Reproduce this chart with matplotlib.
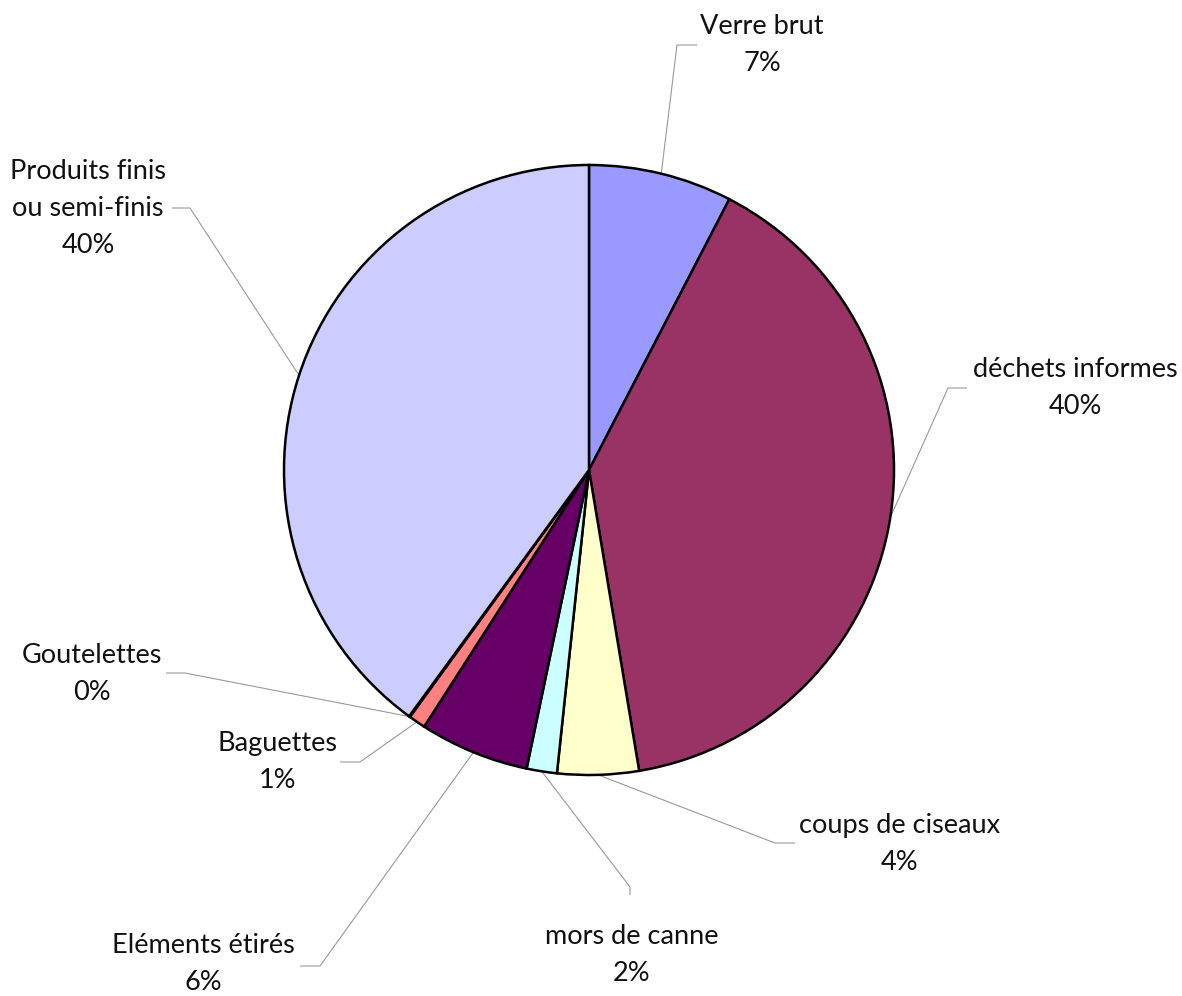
import numpy as np
import matplotlib
matplotlib.use("Agg")
import matplotlib.pyplot as plt

# ---- data ----
categories = ["Verre brut", "déchets informes", "coups de ciseaux", "mors de canne",
              "Eléments étirés", "Baguettes", "Goutelettes", "Produits finis\nou semi-finis"]
values = [7.6, 39.7, 4.3, 1.6, 5.8, 0.9, 0.05, 39.9]
pct_labels = ["7%", "40%", "4%", "2%", "6%", "1%", "0%", "40%"]
colors = ["#9999FF", "#993366", "#FFFFCC", "#CCFFFF", "#660066", "#FF8080", "#0066CC", "#CCCCFF"]

# ---- layout (pixel coords, y from top) ----
W, H = 1182, 996
center_px = (589, 470)
radius_px = 305
# text center, elbow point, horizontal end point next to label
label_pos = [(762, 45), (1075, 388), (900, 844), (632, 955), (203, 964), (278, 762), (92, 674), (88, 208)]
elbow_pos = [(677, 45), (948, 388), (775, 843), (630, 887), (320, 966), (360, 762), (185, 673), (190, 208)]
hend_pos = [(697, 45), (967, 388), (795, 843), (630, 895), (300, 966), (340, 762), (166, 673), (172, 208)]

fig = plt.figure(figsize=(W / 100, H / 100), dpi=100)
ax = fig.add_axes([0, 0, 1, 1])

cx, cy = center_px[0], H - center_px[1]
wedges, _ = ax.pie(values, colors=colors, startangle=90, counterclock=False,
                   center=(cx, cy), radius=radius_px, frame=True,
                   wedgeprops=dict(edgecolor="black", linewidth=1.8))
ax.set_xlim(0, W)
ax.set_ylim(0, H)
ax.set_aspect("equal")
ax.axis("off")

font = "Lato"
for w, cat, pct, lp, ep, hp in zip(wedges, categories, pct_labels, label_pos, elbow_pos, hend_pos):
    mid = np.deg2rad((w.theta1 + w.theta2) / 2)
    ax_x = cx + radius_px * np.cos(mid)
    ax_y = cy + radius_px * np.sin(mid)
    ax.plot([ax_x, ep[0], hp[0]], [ax_y, H - ep[1], H - hp[1]], color="#999999", lw=0.8,
            solid_capstyle="butt", zorder=0)
    ax.text(lp[0], H - lp[1], cat + "\n" + pct, ha="center", va="center", fontsize=19.5,
            family=font, color="#111111", linespacing=1.6, multialignment="center")

fig.savefig("out.png", dpi=100)
